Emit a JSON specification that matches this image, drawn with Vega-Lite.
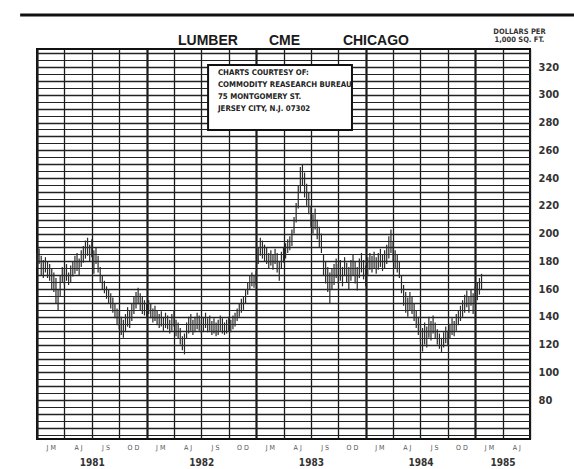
{
  "$schema": "https://vega.github.io/schema/vega-lite/v6.json",
  "width": 493,
  "height": 390,
  "autosize": {"type": "none"},
  "padding": {"left": 37, "top": 49, "right": 44, "bottom": 30},
  "background": "white",
  "config": {
    "view": {"stroke": "#111", "strokeWidth": 2},
    "font": "Liberation Sans"
  },
  "title": {
    "text": "LUMBER\u00a0\u00a0\u00a0\u00a0\u00a0\u00a0\u00a0\u00a0CME\u00a0\u00a0\u00a0\u00a0\u00a0\u00a0\u00a0\u00a0\u00a0\u00a0\u00a0CHICAGO",
    "anchor": "start",
    "frame": "group",
    "dx": 141,
    "dy": 38,
    "offset": 3,
    "fontSize": 14,
    "fontWeight": "bold",
    "font": "Liberation Sans",
    "color": "#1a1a1a"
  },
  "resolve": {"axis": {"x": "independent"}},
  "layer": [
    {
      "data": {"values": [
        {"w":0,"hi":186,"lo":176},{"w":1,"hi":189,"lo":178},{"w":2,"hi":184,"lo":170},{"w":3,"hi":181,"lo":168},
        {"w":4,"hi":183,"lo":172},{"w":5,"hi":180,"lo":168},{"w":6,"hi":178,"lo":166},{"w":7,"hi":175,"lo":160},
        {"w":8,"hi":172,"lo":158},{"w":9,"hi":168,"lo":150},{"w":10,"hi":160,"lo":145},{"w":11,"hi":170,"lo":155},
        {"w":12,"hi":176,"lo":165},{"w":13,"hi":175,"lo":163},{"w":14,"hi":178,"lo":166},{"w":15,"hi":172,"lo":163},
        {"w":16,"hi":177,"lo":165},{"w":17,"hi":180,"lo":169},{"w":18,"hi":184,"lo":171},{"w":19,"hi":186,"lo":173},
        {"w":20,"hi":182,"lo":170},{"w":21,"hi":188,"lo":176},{"w":22,"hi":191,"lo":179},{"w":23,"hi":195,"lo":182},
        {"w":24,"hi":197,"lo":184},{"w":25,"hi":192,"lo":180},{"w":26,"hi":196,"lo":183},{"w":27,"hi":188,"lo":171},
        {"w":28,"hi":190,"lo":178},{"w":29,"hi":184,"lo":172},{"w":30,"hi":176,"lo":165},{"w":31,"hi":170,"lo":160},
        {"w":32,"hi":166,"lo":157},{"w":33,"hi":162,"lo":153},{"w":34,"hi":160,"lo":150},{"w":35,"hi":157,"lo":146},
        {"w":36,"hi":154,"lo":143},{"w":37,"hi":150,"lo":139},{"w":38,"hi":146,"lo":134},{"w":39,"hi":144,"lo":131},
        {"w":40,"hi":140,"lo":127},{"w":41,"hi":138,"lo":125},{"w":42,"hi":142,"lo":129},{"w":43,"hi":147,"lo":133},
        {"w":44,"hi":145,"lo":132},{"w":45,"hi":150,"lo":137},{"w":46,"hi":155,"lo":142},{"w":47,"hi":158,"lo":146},
        {"w":48,"hi":161,"lo":149},{"w":49,"hi":157,"lo":145},{"w":50,"hi":155,"lo":142},{"w":51,"hi":152,"lo":141},
        {"w":52,"hi":150,"lo":140},{"w":53,"hi":152,"lo":142},{"w":54,"hi":150,"lo":139},{"w":55,"hi":146,"lo":136},
        {"w":56,"hi":148,"lo":137},{"w":57,"hi":145,"lo":134},{"w":58,"hi":142,"lo":132},{"w":59,"hi":144,"lo":133},
        {"w":60,"hi":140,"lo":130},{"w":61,"hi":143,"lo":132},{"w":62,"hi":141,"lo":131},{"w":63,"hi":138,"lo":128},
        {"w":64,"hi":142,"lo":130},{"w":65,"hi":145,"lo":133},{"w":66,"hi":138,"lo":126},{"w":67,"hi":136,"lo":124},
        {"w":68,"hi":132,"lo":120},{"w":69,"hi":126,"lo":116},{"w":70,"hi":128,"lo":113},{"w":71,"hi":136,"lo":124},
        {"w":72,"hi":140,"lo":128},{"w":73,"hi":142,"lo":130},{"w":74,"hi":138,"lo":127},{"w":75,"hi":140,"lo":129},
        {"w":76,"hi":143,"lo":131},{"w":77,"hi":141,"lo":130},{"w":78,"hi":138,"lo":128},{"w":79,"hi":140,"lo":129},
        {"w":80,"hi":143,"lo":132},{"w":81,"hi":139,"lo":129},{"w":82,"hi":141,"lo":130},{"w":83,"hi":137,"lo":127},
        {"w":84,"hi":139,"lo":128},{"w":85,"hi":136,"lo":126},{"w":86,"hi":138,"lo":127},{"w":87,"hi":141,"lo":130},
        {"w":88,"hi":139,"lo":128},{"w":89,"hi":136,"lo":127},{"w":90,"hi":138,"lo":128},{"w":91,"hi":140,"lo":130},
        {"w":92,"hi":138,"lo":129},{"w":93,"hi":141,"lo":131},{"w":94,"hi":143,"lo":133},{"w":95,"hi":146,"lo":137},
        {"w":96,"hi":150,"lo":140},{"w":97,"hi":153,"lo":143},{"w":98,"hi":155,"lo":145},{"w":99,"hi":160,"lo":150},
        {"w":100,"hi":165,"lo":156},{"w":101,"hi":170,"lo":160},{"w":102,"hi":172,"lo":162},{"w":103,"hi":170,"lo":161},
        {"w":104,"hi":173,"lo":163},{"w":105,"hi":190,"lo":178},{"w":106,"hi":197,"lo":184},{"w":107,"hi":195,"lo":182},
        {"w":108,"hi":192,"lo":180},{"w":109,"hi":190,"lo":178},{"w":110,"hi":186,"lo":175},{"w":111,"hi":188,"lo":177},
        {"w":112,"hi":185,"lo":174},{"w":113,"hi":189,"lo":178},{"w":114,"hi":186,"lo":172},{"w":115,"hi":180,"lo":166},
        {"w":116,"hi":187,"lo":175},{"w":117,"hi":190,"lo":179},{"w":118,"hi":193,"lo":182},{"w":119,"hi":196,"lo":186},
        {"w":120,"hi":198,"lo":188},{"w":121,"hi":203,"lo":191},{"w":122,"hi":212,"lo":200},{"w":123,"hi":222,"lo":208},
        {"w":124,"hi":235,"lo":218},{"w":125,"hi":248,"lo":230},{"w":126,"hi":250,"lo":235},{"w":127,"hi":244,"lo":226},
        {"w":128,"hi":236,"lo":220},{"w":129,"hi":230,"lo":214},{"w":130,"hi":220,"lo":205},{"w":131,"hi":214,"lo":200},
        {"w":132,"hi":218,"lo":203},{"w":133,"hi":210,"lo":196},{"w":134,"hi":205,"lo":190},{"w":135,"hi":200,"lo":186},
        {"w":136,"hi":185,"lo":170},{"w":137,"hi":180,"lo":164},{"w":138,"hi":176,"lo":158},{"w":139,"hi":172,"lo":150},
        {"w":140,"hi":175,"lo":160},{"w":141,"hi":178,"lo":163},{"w":142,"hi":182,"lo":168},{"w":143,"hi":178,"lo":164},
        {"w":144,"hi":181,"lo":166},{"w":145,"hi":176,"lo":162},{"w":146,"hi":183,"lo":170},{"w":147,"hi":179,"lo":165},
        {"w":148,"hi":176,"lo":160},{"w":149,"hi":181,"lo":166},{"w":150,"hi":185,"lo":170},{"w":151,"hi":180,"lo":164},
        {"w":152,"hi":176,"lo":159},{"w":153,"hi":182,"lo":168},{"w":154,"hi":186,"lo":172},{"w":155,"hi":181,"lo":167},
        {"w":156,"hi":177,"lo":162},{"w":157,"hi":183,"lo":170},{"w":158,"hi":186,"lo":174},{"w":159,"hi":184,"lo":172},
        {"w":160,"hi":187,"lo":175},{"w":161,"hi":183,"lo":171},{"w":162,"hi":186,"lo":174},{"w":163,"hi":189,"lo":176},
        {"w":164,"hi":185,"lo":173},{"w":165,"hi":188,"lo":175},{"w":166,"hi":192,"lo":178},{"w":167,"hi":198,"lo":182},
        {"w":168,"hi":203,"lo":186},{"w":169,"hi":194,"lo":180},{"w":170,"hi":188,"lo":175},{"w":171,"hi":185,"lo":172},
        {"w":172,"hi":180,"lo":168},{"w":173,"hi":170,"lo":157},{"w":174,"hi":163,"lo":148},{"w":175,"hi":158,"lo":143},
        {"w":176,"hi":154,"lo":140},{"w":177,"hi":158,"lo":145},{"w":178,"hi":155,"lo":142},{"w":179,"hi":150,"lo":137},
        {"w":180,"hi":145,"lo":132},{"w":181,"hi":140,"lo":127},{"w":182,"hi":136,"lo":122},{"w":183,"hi":132,"lo":115},
        {"w":184,"hi":136,"lo":120},{"w":185,"hi":133,"lo":118},{"w":186,"hi":140,"lo":125},{"w":187,"hi":137,"lo":123},
        {"w":188,"hi":141,"lo":128},{"w":189,"hi":136,"lo":124},{"w":190,"hi":131,"lo":120},{"w":191,"hi":128,"lo":117},
        {"w":192,"hi":125,"lo":114},{"w":193,"hi":129,"lo":118},{"w":194,"hi":133,"lo":121},{"w":195,"hi":130,"lo":119},
        {"w":196,"hi":135,"lo":124},{"w":197,"hi":139,"lo":127},{"w":198,"hi":137,"lo":126},{"w":199,"hi":142,"lo":130},
        {"w":200,"hi":145,"lo":134},{"w":201,"hi":148,"lo":137},{"w":202,"hi":152,"lo":140},{"w":203,"hi":156,"lo":143},
        {"w":204,"hi":159,"lo":147},{"w":205,"hi":155,"lo":143},{"w":206,"hi":160,"lo":148},{"w":207,"hi":157,"lo":142},
        {"w":208,"hi":162,"lo":150},{"w":209,"hi":165,"lo":152},{"w":210,"hi":168,"lo":156},{"w":211,"hi":171,"lo":160}
      ]},
      "mark": {"type": "rule", "color": "#2a2a2a", "strokeWidth": 1.2},
      "encoding": {
        "x": {
          "field": "w", "type": "quantitative",
          "scale": {"domain": [0, 234], "nice": false, "zero": false},
          "axis": {
            "orient": "bottom",
            "title": null,
            "domain": false,
            "labels": false,
            "ticks": false,
            "tickCount": 1000,
            "values": [0,13,26,39,52,65,78,91,104,117,130,143,156,169,182,195,208,221,234],
            "grid": true,
            "gridColor": "#1a1a1a",
            "gridWidth": {"condition": {"test": "datum.value % 52 == 0", "value": 2.2}, "value": 1.3}
          }
        },
        "y": {
          "field": "hi", "type": "quantitative",
          "scale": {"domain": [52, 333], "nice": false, "zero": false},
          "axis": {
            "orient": "right",
            "tickCount": 1000,
            "format": "d",
            "values": [55,60,65,70,75,80,85,90,95,100,105,110,115,120,125,130,135,140,145,150,155,160,165,170,175,180,185,190,195,200,205,210,215,220,225,230,235,240,245,250,255,260,265,270,275,280,285,290,295,300,305,310,315,320,325,330],
            "labelExpr": "datum.value % 20 == 0 && datum.value >= 80 && datum.value <= 320 ? toString(datum.value) : ''",
            "labelOverlap": false,
            "labelFont": "Liberation Sans Narrow, DejaVu Sans Condensed, sans-serif",
            "labelFontSize": 11,
            "labelFontWeight": "bold",
            "labelColor": "#333",
            "labelPadding": 8,
            "ticks": false,
            "domain": false,
            "grid": true,
            "gridColor": "#222",
            "gridWidth": {"condition": {"test": "datum.value % 10 == 0", "value": 1.5}, "value": 1},
            "title": ["DOLLARS PER", "1,000 SQ. FT."],
            "titleAngle": 0,
            "titleAlign": "center",
            "titleBaseline": "top",
            "titleX": -11,
            "titleY": -22,
            "titleFont": "Liberation Sans Narrow, DejaVu Sans Condensed, sans-serif",
            "titleFontSize": 7.5,
            "titleFontWeight": "bold",
            "titleLineHeight": 8,
            "titleColor": "#333"
          }
        },
        "y2": {"field": "lo"}
      }
    },
    {
      "data": {"values": [{"box": "courtesy"}]},
      "mark": {"type": "rect", "fill": "white", "stroke": "#111", "strokeWidth": 2},
      "encoding": {
        "x": {"datum": 81.2, "type": "quantitative", "axis": null},
        "x2": {"datum": 149.5},
        "y": {"datum": 321.5, "type": "quantitative"},
        "y2": {"datum": 274.6}
      }
    },
    {
      "data": {"values": [{"note": ["CHARTS COURTESY OF:", "COMMODITY REASEARCH BUREAU", "75 MONTGOMERY ST.", "JERSEY CITY, N.J. 07302"]}]},
      "mark": {"type": "text", "align": "left", "baseline": "top", "font": "Liberation Sans Narrow, DejaVu Sans Condensed, sans-serif", "fontSize": 7.8, "fontWeight": "bold", "lineHeight": 12, "color": "#222"},
      "encoding": {
        "x": {
          "datum": 85.9, "type": "quantitative",
          "axis": {
            "orient": "bottom",
            "title": null,
            "domain": false,
            "ticks": false,
            "grid": false,
            "tickCount": 1000,
            "values": [6.5,19.5,26,32.5,45.5,58.5,71.5,78,84.5,97.5,110.5,123.5,130,136.5,149.5,162.5,175.5,182,188.5,201.5,214.5,221,227.5],
            "labelExpr": "indexof([26,78,130,182,221], datum.value) >= 0 ? (datum.value == 221 ? '1985' : toString(1981 + (datum.value - 26) / 52)) : ['J M','A J','J S','O D'][floor(datum.value / 13) % 4]",
            "labelOverlap": false,
            "labelFlush": false,
            "labelBound": false,
            "labelFont": "Liberation Sans Narrow, DejaVu Sans Condensed, sans-serif",
            "labelFontSize": {"condition": {"test": "indexof([26,78,130,182,221], datum.value) >= 0", "value": 10}, "value": 7},
            "labelFontWeight": {"condition": {"test": "indexof([26,78,130,182,221], datum.value) >= 0", "value": "bold"}, "value": "normal"},
            "labelColor": {"condition": {"test": "indexof([26,78,130,182,221], datum.value) >= 0", "value": "#333"}, "value": "#555"},
            "labelPadding": {"condition": {"test": "indexof([26,78,130,182,221], datum.value) >= 0", "value": 18}, "value": 4},
            "labelBaseline": "top"
          }
        },
        "y": {"datum": 318.8, "type": "quantitative"},
        "text": {"field": "note"}
      }
    },
    {
      "data": {"values": [{"border": "top"}]},
      "mark": {"type": "rule", "color": "#111", "strokeWidth": 3},
      "encoding": {
        "x": {"datum": -8, "type": "quantitative", "axis": null},
        "x2": {"datum": 262},
        "y": {"datum": 357.5, "type": "quantitative"}
      }
    }
  ]
}
